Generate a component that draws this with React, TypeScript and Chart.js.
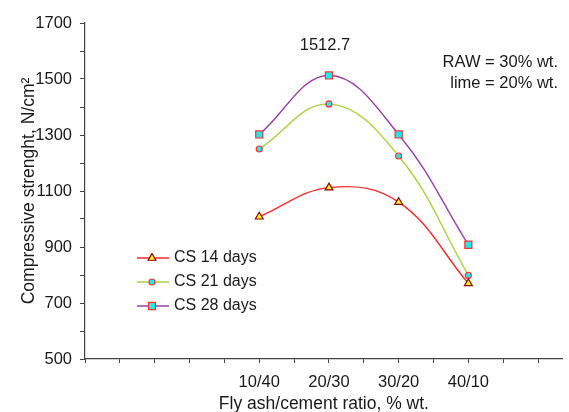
import React, { useEffect, useRef } from "react";
import { Chart, registerables } from "chart.js";

Chart.register(...registerables);

const categories = ["10/40", "20/30", "30/20", "40/10"];
const categoryPositions = [5, 7, 9, 11];
const cs14 = [1008, 1112, 1060, 770];
const cs21 = [1250, 1411, 1225, 799];
const cs28 = [1302, 1512.7, 1302, 908];
const seriesNames = ["CS 14 days", "CS 21 days", "CS 28 days"];
const yTicks = [500, 700, 900, 1100, 1300, 1500, 1700];
const peakLabel = "1512.7";
const noteLines = ["RAW = 30% wt.", "lime = 20% wt."];

const FONT = "Arial, 'Liberation Sans', sans-serif";
const TEXT = "#1a1a1a";

const styles = [
  { line: "#ff2a2a", fill: "#ffff00", border: "#900000", pointStyle: "triangle", radius: 4.5 },
  { line: "#a8d43c", fill: "#22e8ee", border: "#ff3030", pointStyle: "circle", radius: 3 },
  { line: "#9a40a8", fill: "#22e8ee", border: "#ff3030", pointStyle: "rect", radius: 5 },
];

const toPoints = (vals: number[]) => vals.map((v, i) => ({ x: categoryPositions[i], y: v }));

function drawMarker(ctx: CanvasRenderingContext2D, style: string, r: number, x: number, y: number) {
  ctx.beginPath();
  if (style === "triangle") {
    const half = r * Math.sin(Math.PI / 3);
    ctx.moveTo(x, y - r);
    ctx.lineTo(x + half, y + r / 2);
    ctx.lineTo(x - half, y + r / 2);
    ctx.closePath();
  } else if (style === "circle") {
    ctx.arc(x, y, r, 0, Math.PI * 2);
  } else {
    const s = r * Math.SQRT1_2;
    ctx.rect(x - s, y - s, 2 * s, 2 * s);
  }
  ctx.fill();
  ctx.stroke();
}

export default function App() {
  const ref = useRef<HTMLCanvasElement | null>(null);
  useEffect(() => {
    if (!ref.current) return;
    const all = [cs14, cs21, cs28];
    const overlay = {
      id: "overlay",
      afterDraw(chart: any) {
        const ctx = chart.ctx;
        ctx.save();
        ctx.font = `16.5px ${FONT}`;
        ctx.fillStyle = TEXT;
        ctx.textBaseline = "middle";
        ctx.textAlign = "center";
        ctx.fillText(peakLabel, 325, 45);
        ctx.textAlign = "right";
        ctx.fillText(noteLines[0], 558, 62);
        ctx.fillText(noteLines[1], 558, 83);
        ctx.font = `16px ${FONT}`;
        const ys = [258, 282, 306];
        seriesNames.forEach((name, i) => {
          const s = styles[i];
          const y = ys[i];
          ctx.strokeStyle = s.line;
          ctx.lineWidth = 1.5;
          ctx.beginPath();
          ctx.moveTo(137, y);
          ctx.lineTo(169, y);
          ctx.stroke();
          ctx.fillStyle = s.fill;
          ctx.strokeStyle = s.border;
          ctx.lineWidth = 1.2;
          drawMarker(ctx, s.pointStyle, s.radius, 152, y);
          ctx.fillStyle = TEXT;
          ctx.textAlign = "left";
          ctx.fillText(name, 174, y);
        });
        ctx.restore();
      },
    };
    const chart = new Chart(ref.current, {
      type: "line",
      data: {
        datasets: all.map((vals, i) => ({
          label: seriesNames[i],
          data: toPoints(vals),
          borderColor: styles[i].line,
          borderWidth: 1.4,
          backgroundColor: styles[i].fill,
          pointBackgroundColor: styles[i].fill,
          pointBorderColor: styles[i].border,
          pointBorderWidth: 1.2,
          pointStyle: styles[i].pointStyle as any,
          pointRadius: styles[i].radius,
          tension: 0.4,
          fill: false,
        })),
      },
      options: {
        animation: false,
        responsive: false,
        maintainAspectRatio: false,
        layout: { padding: { top: 23, right: 0, left: 0, bottom: 0 } },
        plugins: { legend: { display: false }, tooltip: { enabled: false } },
        scales: {
          x: {
            type: "linear",
            min: 0,
            max: 13.71,
            afterBuildTicks: (scale: any) => {
              const t = [];
              for (let i = 0; i <= 13; i++) t.push({ value: i });
              scale.ticks = t;
            },
            afterFit: (scale: any) => {
              scale.height = 53;
            },
            ticks: {
              autoSkip: false,
              maxRotation: 0,
              padding: 10,
              color: TEXT,
              font: { family: FONT, size: 16.5 },
              callback: (v: any) => {
                const idx = categoryPositions.indexOf(Number(v));
                return idx >= 0 ? categories[idx] : "";
              },
            },
            grid: { drawOnChartArea: false, drawTicks: true, tickLength: 4, color: "#444" },
            border: { display: true, color: "#444", width: 1.2 },
            title: {
              display: true,
              text: "Fly ash/cement ratio, % wt.",
              color: TEXT,
              font: { family: FONT, size: 17.5 },
              padding: { top: 0, bottom: -3 },
            },
          },
          y: {
            type: "linear",
            min: 500,
            max: 1700,
            afterFit: (scale: any) => {
              scale.width = 85;
            },
            ticks: {
              stepSize: 100,
              padding: 8,
              color: TEXT,
              font: { family: FONT, size: 16.5 },
              callback: (v: any) => (yTicks.includes(Number(v)) ? String(v) : ""),
            },
            grid: { drawOnChartArea: false, drawTicks: true, tickLength: 5, color: "#444" },
            border: { display: true, color: "#444", width: 1.2 },
            title: {
              display: true,
              text: "Compressive strenght, N/cm²",
              color: TEXT,
              font: { family: FONT, size: 17.5 },
              padding: { top: 19, bottom: 0 },
            },
          },
        },
      },
      plugins: [overlay],
    });
    return () => chart.destroy();
  }, []);
  return (
    <div style={{ position: "absolute", left: 0, top: 0, width: 569, height: 412, background: "#fff" }}>
      <canvas ref={ref} width={569} height={412} style={{ width: 569, height: 412 }} />
    </div>
  );
}
